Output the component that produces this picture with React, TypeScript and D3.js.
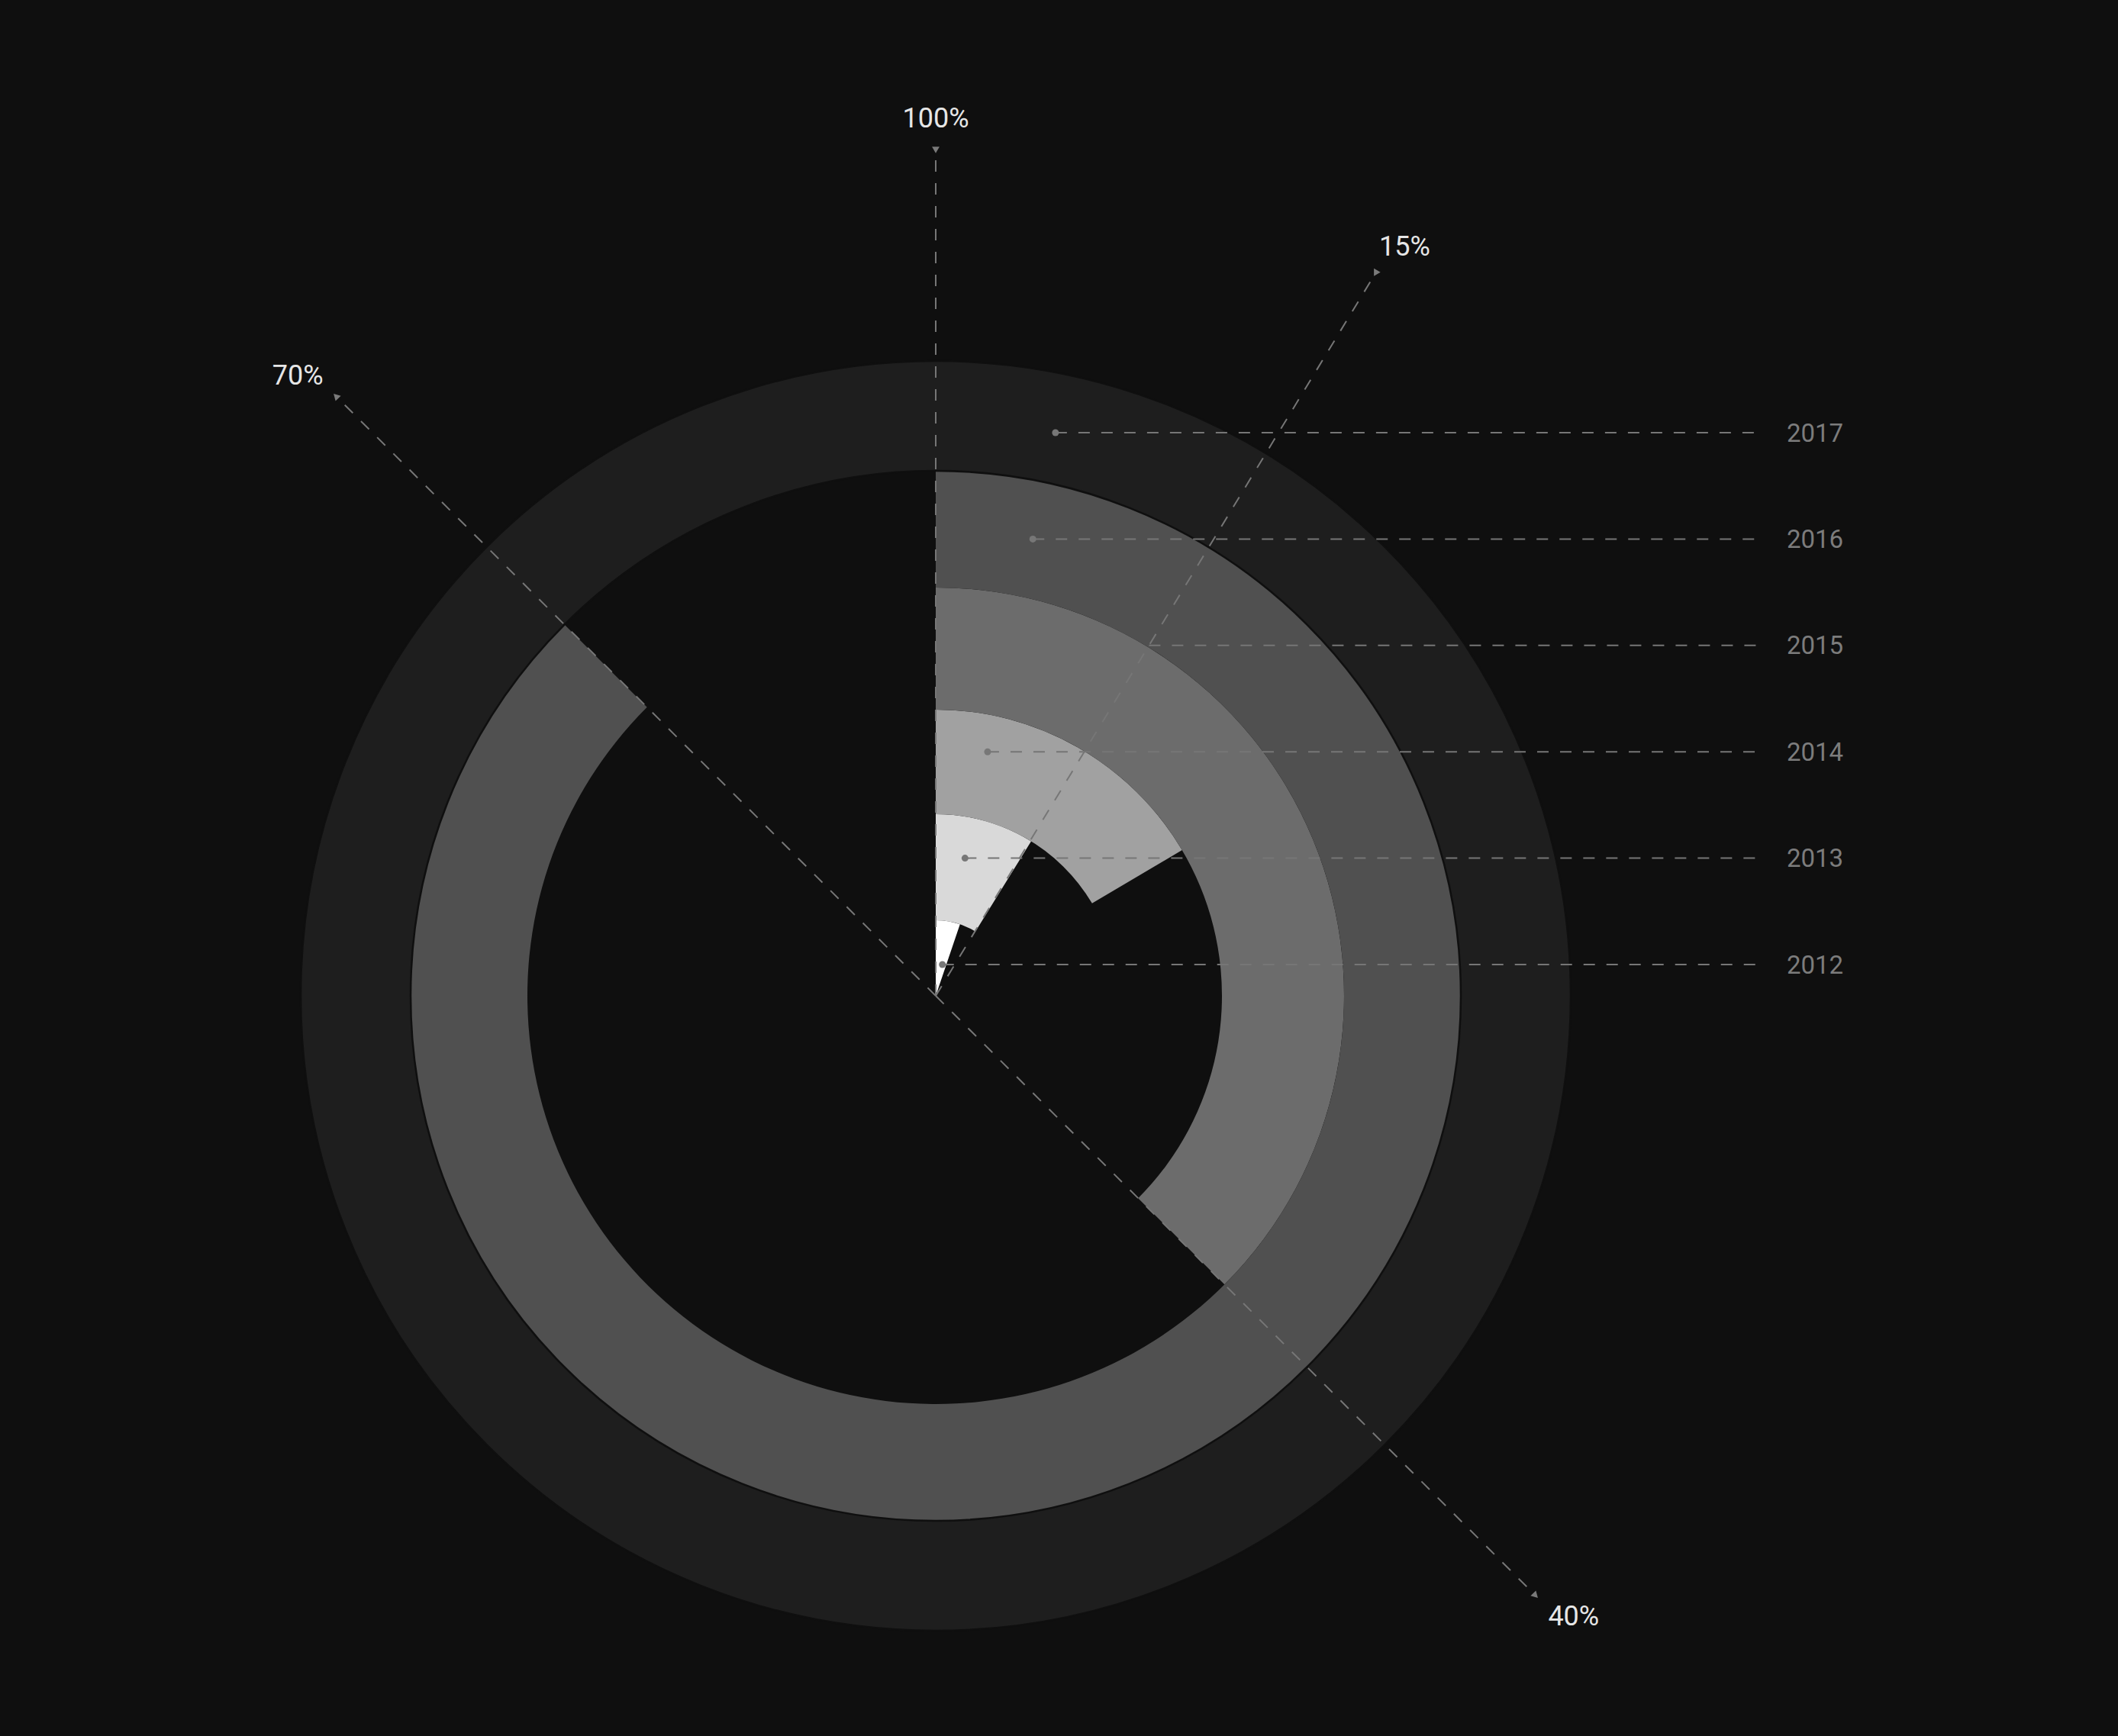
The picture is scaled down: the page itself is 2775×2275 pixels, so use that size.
import React from "react";
import * as d3 from "d3";

// ---- data ----
const years = ["2012", "2013", "2014", "2015", "2016", "2017"];
// share of the full circle swept by each ring (percent)
const shares = [5.2, 8.8, 16.5, 37.5, 87.5, 100];
const ringColors = ["#ffffff", "#d9d9d9", "#a1a1a1", "#6c6c6c", "#505050", "#1e1e1e"];
const labelDots = [true, true, true, false, true, true];

const markerLabels = ["100%", "15%", "40%", "70%"];
const markerPositions = [100, 8.7, 37.5, 87.5]; // percent of the circle
const markerArrowRotation = [180, 90, 135, 315];

// ---- layout ----
const W = 2775;
const H = 2275;
const cx = 1226;
const cy = 1305;

export default function App() {
  const angle = d3.scaleLinear().domain([0, 100]).range([0, 2 * Math.PI]);
  const radius = d3
    .scaleLinear()
    .domain([0, 1, 2, 3, 4, 5, 6])
    .range([0, 99, 238, 375, 535, 688, 832]);
  const leaderY = d3.scaleLinear().domain([0, years.length - 1]).range([cy - 41, cy - 738]);

  const arc = d3.arc<any>();
  const pt = (a: number, r: number) => [cx + r * Math.sin(a), cy - r * Math.cos(a)];

  const dotAngle = (12 * Math.PI) / 180;
  const axisAngle15 = angle(markerPositions[1]);

  const lineColor = "#767676";
  const font = "Roboto, 'Noto Sans', sans-serif";

  const order = years.map((_, i) => i);

  return (
    <svg
      width={W}
      height={H}
      style={{ position: "absolute", left: 0, top: 0, background: "#0f0f0f", display: "block" }}
    >
      <rect x={0} y={0} width={W} height={H} fill="#0f0f0f" />
      <g>
        {order.map((i) => {
          const d = arc({
            innerRadius: radius(i),
            outerRadius: radius(i + 1),
            startAngle: 0,
            endAngle: angle(shares[i]),
          }) as string;
          const isFull = shares[i] >= 100;
          return (
            <path
              key={years[i]}
              d={d}
              transform={`translate(${cx},${cy})`}
              fill={ringColors[i]}
              stroke={isFull ? "#0f0f0f" : "none"}
              strokeWidth={isFull ? 2.5 : 0}
            />
          );
        })}
      </g>

      {/* radial annotation axes */}
      <g>
        {markerLabels.map((lab, k) => {
          const a = angle(markerPositions[k]);
          const [x2, y2] = pt(a, 1098);
          const [ax, ay] = pt(a, 1110);
          const s = Math.sin(a);
          const lx = cx + s * 1150 + 32 * s;
          const ly = cy - Math.cos(a) * 1150;
          const tri = d3.symbol().type(d3.symbolTriangle).size(42)() as string;
          return (
            <g key={lab}>
              <line
                x1={cx}
                y1={cy}
                x2={x2}
                y2={y2}
                stroke={lineColor}
                strokeWidth={2}
                strokeDasharray="15 15"
              />
              <path
                d={tri}
                transform={`translate(${ax},${ay}) rotate(${markerArrowRotation[k]})`}
                fill="#7a7a7a"
              />
              <text
                x={lx}
                y={ly}
                fill="#e6e6e6"
                fontFamily={font}
                fontSize={36}
                textAnchor="middle"
                dominantBaseline="central"
              >
                {lab}
              </text>
            </g>
          );
        })}
      </g>

      {/* year leader lines */}
      <g>
        {years.map((yr, i) => {
          const y = leaderY(i);
          const dy = cy - y;
          const x0 = labelDots[i] ? cx + dy * Math.tan(dotAngle) : cx + dy * Math.tan(axisAngle15);
          return (
            <g key={yr}>
              <line
                x1={x0}
                y1={y}
                x2={2303}
                y2={y}
                stroke={lineColor}
                strokeWidth={2}
                strokeDasharray="15 15"
              />
              {labelDots[i] && <circle cx={x0} cy={y} r={4.5} fill="#777777" />}
              <text
                x={2378}
                y={y}
                fill="#7c7c7c"
                fontFamily={font}
                fontSize={33}
                textAnchor="middle"
                dominantBaseline="central"
              >
                {yr}
              </text>
            </g>
          );
        })}
      </g>
    </svg>
  );
}
